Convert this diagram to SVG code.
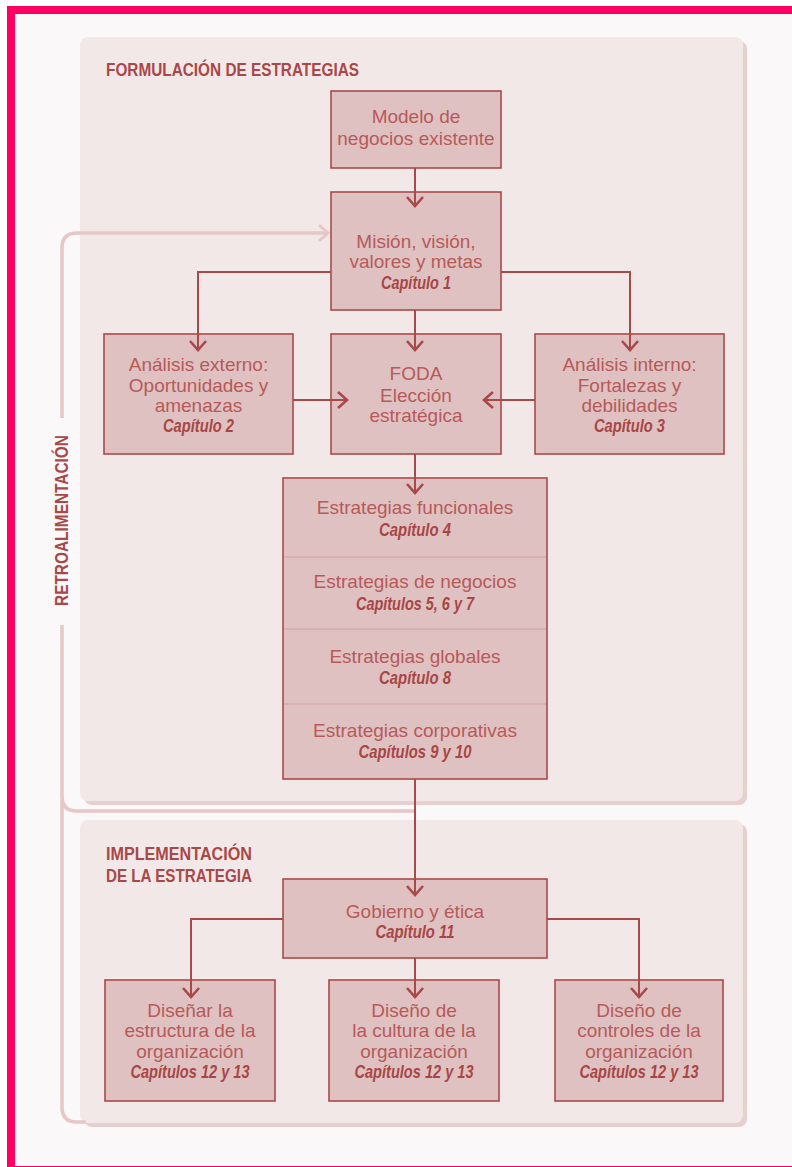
<svg xmlns="http://www.w3.org/2000/svg" width="792" height="1167" viewBox="0 0 792 1167">
<defs>
<style>
.box{fill:#e0c1c1;stroke:#a94a4a;stroke-width:1.6}
.div{stroke:#cfa3a3;stroke-width:1}
.t{font-family:"Liberation Sans",Arial,sans-serif;font-size:19px;fill:#b65a5a;text-anchor:middle}
.c{font-family:"Liberation Sans",Arial,sans-serif;font-size:18px;font-weight:bold;font-style:italic;fill:#a84646;text-anchor:middle}
.h{font-family:"Liberation Sans",Arial,sans-serif;font-size:19px;font-weight:bold;fill:#a84848}
.ln{fill:none;stroke:#a94a4a;stroke-width:2}
.fb{fill:none;stroke:#e6c6c6;stroke-width:3.5}
.panel{fill:#f3e8e8}
.shadow{fill:#e6cfcf}
</style>
<marker id="ar" markerUnits="userSpaceOnUse" markerWidth="24" markerHeight="24" viewBox="-12 -12 24 24" refX="0" refY="0" orient="auto"><path d="M-9,-8 L0,0 L-9,8" fill="none" stroke="#a94a4a" stroke-width="2.6"/></marker>
<marker id="fa" markerUnits="userSpaceOnUse" markerWidth="24" markerHeight="24" viewBox="-12 -12 24 24" refX="0" refY="0" orient="auto"><path d="M-9,-8 L0,0 L-9,8" fill="none" stroke="#e6c6c6" stroke-width="3"/></marker>
</defs>

<rect x="0" y="0" width="792" height="1167" fill="#ffffff"/>
<rect x="11" y="10" width="800" height="1160" fill="#fbf8f9" stroke="#ff0062" stroke-width="8"/>

<g id="panels">
<rect class="shadow" x="84" y="41" width="663" height="764" rx="8"/>
<rect class="panel" x="80" y="37" width="663" height="764" rx="8"/>
<rect class="shadow" x="84" y="824" width="663" height="303" rx="8"/>
<rect class="panel" x="80" y="820" width="663" height="303" rx="8"/>
<text class="h" x="106" y="76" textLength="253" lengthAdjust="spacingAndGlyphs">FORMULACIÓN DE ESTRATEGIAS</text>
<text class="h" x="106" y="860" font-size="18.5" textLength="146" lengthAdjust="spacingAndGlyphs">IMPLEMENTACIÓN</text>
<text class="h" x="106" y="882" font-size="18.5" textLength="146" lengthAdjust="spacingAndGlyphs">DE LA ESTRATEGIA</text>
</g>

<g id="feedback">
<path class="fb" d="M415,811 H77 Q62,811 62,796 V625"/>
<path class="fb" d="M62,418 V248 Q62,233 77,233 H328" marker-end="url(#fa)"/>
<path class="fb" d="M62,800 V1107 Q62,1122 77,1122 H86"/>
<text class="h" font-size="18" transform="translate(68,606) rotate(-90)" textLength="171" lengthAdjust="spacingAndGlyphs">RETROALIMENTACIÓN</text>
</g>

<g id="n-modelo">
<rect class="box" x="331" y="91" width="170" height="77"/>
<text class="t" x="416" y="123">Modelo de</text>
<text class="t" x="416" y="145">negocios existente</text>
</g>

<g id="n-mision">
<rect class="box" x="331" y="192" width="170" height="118"/>
<text class="t" x="416" y="248">Misión, visión,</text>
<text class="t" x="416" y="268">valores y metas</text>
<text class="c" x="416" y="289" textLength="70" lengthAdjust="spacingAndGlyphs">Capítulo 1</text>
</g>

<g id="n-externo">
<rect class="box" x="104" y="334" width="189" height="120"/>
<text class="t" x="198.5" y="371">Análisis externo:</text>
<text class="t" x="198.5" y="392">Oportunidades y</text>
<text class="t" x="198.5" y="412">amenazas</text>
<text class="c" x="198.5" y="432" textLength="71" lengthAdjust="spacingAndGlyphs">Capítulo 2</text>
</g>

<g id="n-foda">
<rect class="box" x="331" y="334" width="170" height="120"/>
<text class="t" x="416" y="380">FODA</text>
<text class="t" x="416" y="402">Elección</text>
<text class="t" x="416" y="422">estratégica</text>
</g>

<g id="n-interno">
<rect class="box" x="535" y="334" width="189" height="120"/>
<text class="t" x="629.5" y="371">Análisis interno:</text>
<text class="t" x="629.5" y="392">Fortalezas y</text>
<text class="t" x="629.5" y="412">debilidades</text>
<text class="c" x="629.5" y="432" textLength="71" lengthAdjust="spacingAndGlyphs">Capítulo 3</text>
</g>

<g id="n-estrategias">
<rect class="box" x="283" y="478" width="264" height="301"/>
<line class="div" x1="284" y1="557" x2="546" y2="557"/>
<line class="div" x1="284" y1="629" x2="546" y2="629"/>
<line class="div" x1="284" y1="704" x2="546" y2="704"/>
<text class="t" x="415" y="514">Estrategias funcionales</text>
<text class="c" x="415" y="536" textLength="72" lengthAdjust="spacingAndGlyphs">Capítulo 4</text>
<text class="t" x="415" y="588">Estrategias de negocios</text>
<text class="c" x="415" y="610" textLength="118" lengthAdjust="spacingAndGlyphs">Capítulos 5, 6 y 7</text>
<text class="t" x="415" y="663">Estrategias globales</text>
<text class="c" x="415" y="684" textLength="72" lengthAdjust="spacingAndGlyphs">Capítulo 8</text>
<text class="t" x="415" y="737">Estrategias corporativas</text>
<text class="c" x="415" y="758" textLength="113" lengthAdjust="spacingAndGlyphs">Capítulos 9 y 10</text>
</g>

<g id="n-gobierno">
<rect class="box" x="283" y="879" width="264" height="79"/>
<text class="t" x="415" y="918">Gobierno y ética</text>
<text class="c" x="415" y="938" textLength="79" lengthAdjust="spacingAndGlyphs">Capítulo 11</text>
</g>

<g id="n-estructura">
<rect class="box" x="105" y="980" width="170" height="121"/>
<text class="t" x="190" y="1017">Diseñar la</text>
<text class="t" x="190" y="1037">estructura de la</text>
<text class="t" x="190" y="1058">organización</text>
<text class="c" x="190" y="1078" textLength="119" lengthAdjust="spacingAndGlyphs">Capítulos 12 y 13</text>
</g>

<g id="n-cultura">
<rect class="box" x="329" y="980" width="170" height="121"/>
<text class="t" x="414" y="1017">Diseño de</text>
<text class="t" x="414" y="1037">la cultura de la</text>
<text class="t" x="414" y="1058">organización</text>
<text class="c" x="414" y="1078" textLength="119" lengthAdjust="spacingAndGlyphs">Capítulos 12 y 13</text>
</g>

<g id="n-controles">
<rect class="box" x="555" y="980" width="168" height="121"/>
<text class="t" x="639" y="1017">Diseño de</text>
<text class="t" x="639" y="1037">controles de la</text>
<text class="t" x="639" y="1058">organización</text>
<text class="c" x="639" y="1078" textLength="119" lengthAdjust="spacingAndGlyphs">Capítulos 12 y 13</text>
</g>

<g id="connectors">
<path class="ln" d="M415,168 V206" marker-end="url(#ar)"/>
<path class="ln" d="M331,272 H198 V350" marker-end="url(#ar)"/>
<path class="ln" d="M501,272 H630 V350" marker-end="url(#ar)"/>
<path class="ln" d="M415,310 V350" marker-end="url(#ar)"/>
<path class="ln" d="M293,400 H347" marker-end="url(#ar)"/>
<path class="ln" d="M535,400 H484" marker-end="url(#ar)"/>
<path class="ln" d="M415,454 V493" marker-end="url(#ar)"/>
<path class="ln" d="M415,779 V895" marker-end="url(#ar)"/>
<path class="ln" d="M283,919 H191 V997" marker-end="url(#ar)"/>
<path class="ln" d="M415,958 V997" marker-end="url(#ar)"/>
<path class="ln" d="M547,919 H639 V997" marker-end="url(#ar)"/>
</g>
</svg>
